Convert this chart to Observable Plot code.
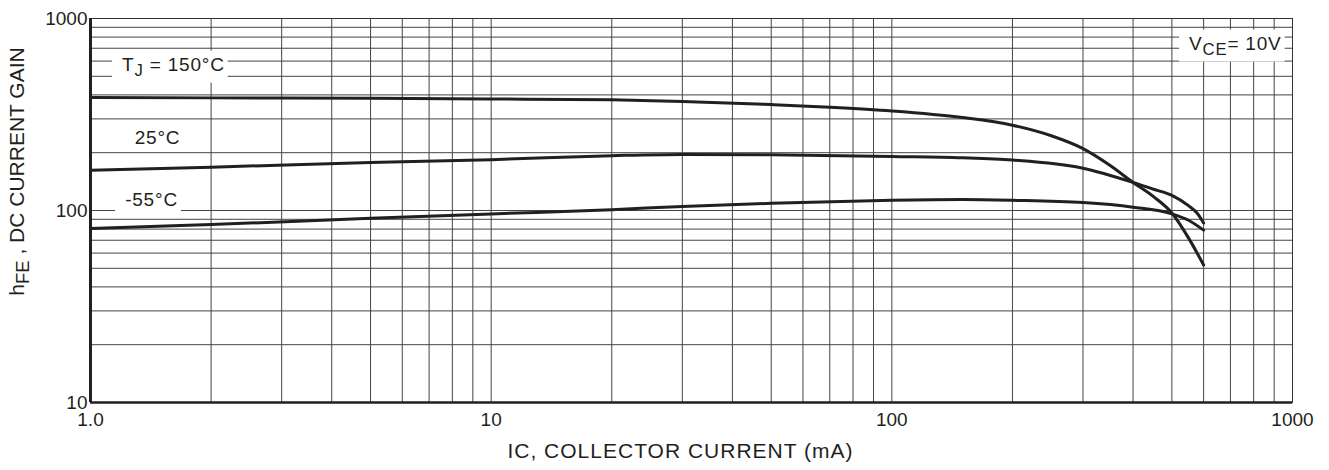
<!DOCTYPE html>
<html><head><meta charset="utf-8">
<script src="https://cdn.jsdelivr.net/npm/d3@7"></script>
<script src="https://cdn.jsdelivr.net/npm/@observablehq/plot@0.6"></script>
<style>
body{margin:0;background:#fff;}
svg{font-family:"Liberation Sans",Arial,sans-serif;}
</style>
</head><body><div id="chart"></div>
<script>
// Series: collector current (mA) and DC current gain for each junction temperature
const current150 = [1, 2, 5, 10, 20, 30, 50, 70, 100, 150, 200, 250, 300, 350, 400, 450, 500, 550, 600];
const hfe150     = [388, 386, 384, 381, 377, 370, 356, 345, 330, 305, 278, 245, 210, 172, 140, 118, 97, 72, 52];
const current25  = [1, 2, 5, 10, 20, 30, 50, 100, 150, 200, 300, 400, 450, 500, 550, 580, 600];
const hfe25      = [162, 168, 178, 184, 193, 196, 195, 191, 188, 183, 166, 140, 129, 120, 106, 96, 86];
const currentM55 = [1, 2, 5, 10, 20, 30, 50, 100, 150, 200, 300, 400, 500, 550, 600];
const hfeM55     = [80.5, 84.5, 91, 96, 101, 105, 109, 113, 114, 113, 110, 104, 96, 89, 79];
const seriesNames = ["150°C", "25°C", "-55°C"];

// Axes
const xMajorTicks = [1, 10, 100, 1000];
const xTickLabels = ["1.0", "10", "100", "1000"];
const yMajorTicks = [10, 100, 1000];
const yTickLabels = ["10", "100", "1000"];
const xGridTicks = [1,2,3,4,5,6,7,8,9,10,20,30,40,50,60,70,80,90,100,200,300,400,500,600,700,800,900,1000];
const yGridTicks = [10,20,30,40,50,60,70,80,90,100,200,300,400,500,600,700,800,900,1000];
const xTitle = "IC, COLLECTOR CURRENT (mA)";
const yTitle = "h_FE , DC CURRENT GAIN";

// Annotations (data coordinates)
const annotationText = ["T_J = 150°C", "25°C", "-55°C", "V_CE= 10V"];
const annotationX = [1.61, 1.47, 1.42, 720];
const annotationY = [575, 240, 113, 741];

const rows = [
  ...current150.map((c, i) => ({I: c, h: hfe150[i], T: seriesNames[0]})),
  ...current25.map((c, i) => ({I: c, h: hfe25[i], T: seriesNames[1]})),
  ...currentM55.map((c, i) => ({I: c, h: hfeM55[i], T: seriesNames[2]}))
];
const annotations = annotationText.map((t, i) => ({t, x: annotationX[i], y: annotationY[i]}));

const ink = "#231f20";
const grid = "#444";

const chart = Plot.plot({
  width: 1329,
  height: 470,
  marginLeft: 90,
  marginRight: 37,
  marginTop: 18,
  marginBottom: 68,
  style: {fontFamily: '"Liberation Sans", Arial, sans-serif', background: "#fff", overflow: "visible"},
  x: {type: "log", domain: [1, 1000]},
  y: {type: "log", domain: [10, 1000]},
  marks: [
    Plot.ruleX(xGridTicks, {stroke: grid, strokeWidth: 1}),
    Plot.ruleY(yGridTicks, {stroke: grid, strokeWidth: 1}),
    Plot.frame({stroke: "#333", strokeWidth: 1}),
    Plot.ruleX([1], {stroke: ink, strokeWidth: 3}),
    Plot.ruleY([10], {stroke: ink, strokeWidth: 2.5}),
    Plot.axisX(xMajorTicks, {tickSize: 0, tickPadding: 10, fontSize: 19, fill: ink,
      tickFormat: d => xTickLabels[xMajorTicks.indexOf(d)], label: null}),
    Plot.axisY(yMajorTicks, {tickSize: 0, tickPadding: 3, fontSize: 19, fill: ink,
      tickFormat: d => yTickLabels[yMajorTicks.indexOf(d)], label: null}),
    Plot.text([xTitle], {frameAnchor: "bottom", text: d => d, dy: 55, dx: -11, fontSize: 21, fill: ink}),
    Plot.text([yTitle], {frameAnchor: "left", textAnchor: "middle", text: d => d, rotate: -90, dx: -73, dy: -39,
      fontSize: 21, fill: ink}),
    Plot.text(annotations, {x: "x", y: "y", text: "t", fontSize: 19, fill: ink}),
    Plot.line(rows, {x: "I", y: "h", z: "T", stroke: ink, strokeWidth: 3, curve: "monotone-x"})
  ]
});
document.getElementById("chart").appendChild(chart);

const ns = "http://www.w3.org/2000/svg";
chart.querySelectorAll("text").forEach(t => {
  if (t.textContent === xTitle) t.style.letterSpacing = "1px";
  if (!annotationText.includes(t.textContent)) return;
  t.style.letterSpacing = "0.8px";
  t.dataset.box = "1";
});
function subscriptify(t) {
  const s = t.textContent;
  if (!s.includes("_")) return;
  const parts = s.split(/_([A-Z]+)/);
  while (t.firstChild) t.removeChild(t.firstChild);
  parts.forEach((p, i) => {
    const ts = document.createElementNS(ns, "tspan");
    ts.textContent = p;
    if (i % 2 === 1) { ts.setAttribute("dy", "5"); ts.setAttribute("font-size", "88%"); }
    else if (i > 0) { ts.setAttribute("dy", "-5"); }
    if (p) t.appendChild(ts);
  });
}
chart.querySelectorAll("text").forEach(subscriptify);
// white boxes behind annotations
chart.querySelectorAll('text[data-box="1"]').forEach(t => {
  const bb = t.getBBox();
  const r = document.createElementNS(ns, "rect");
  r.setAttribute("x", bb.x - 10);
  r.setAttribute("y", bb.y - 3);
  r.setAttribute("width", bb.width + 13);
  r.setAttribute("height", bb.height + 6);
  r.setAttribute("fill", "#fff");
  r.setAttribute("stroke", "none");
  const tr = t.getAttribute("transform");
  if (tr) r.setAttribute("transform", tr);
  t.parentNode.insertBefore(r, t);
});
</script>
</body></html>
